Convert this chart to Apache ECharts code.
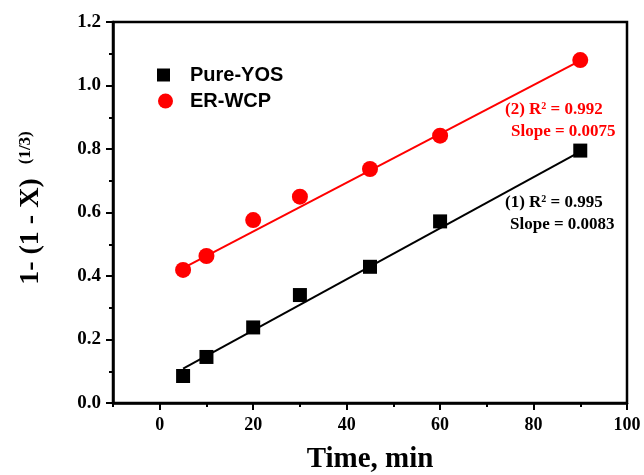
<!DOCTYPE html>
<html>
<head>
<meta charset="utf-8">
<script src="https://cdn.jsdelivr.net/npm/echarts@6/dist/echarts.min.js"></script>
<style>
html, body { margin: 0; padding: 0; background: #fff; }
#chart { width: 644px; height: 475px; }
</style>
</head>
<body>
<div id="chart"></div>
<script>
// Reaction time (min) and conversion function 1-(1-X)^(1/3)
const times = [5, 10, 20, 30, 45, 60, 90];
const pureYos = [0.085, 0.145, 0.238, 0.340, 0.429, 0.572, 0.795];
const erWcp = [0.419, 0.463, 0.576, 0.650, 0.737, 0.842, 1.080];

// Linear fit end points
const fitX = [5, 90];
const fitPureYos = [0.108, 0.792];
const fitErWcp = [0.425, 1.078];

// Axis ticks
const xMajorTicks = [0, 20, 40, 60, 80, 100];
const xMinorTicks = [-10, 10, 30, 50, 70, 90];

const serif = '"Liberation Serif", "Times New Roman", serif';
const sans = '"Liberation Sans", Arial, sans-serif';
const RED = '#ff0000';

const pairs = (xs, ys) => xs.map((x, i) => [x, ys[i]]);

const chart = echarts.init(document.getElementById('chart'), null, { renderer: 'canvas' });

const grid = {
  left: 113, right: 17, top: 22, bottom: 72,
  outerBoundsMode: 'none', containLabel: false,
  show: true, borderColor: '#000', borderWidth: 2.5, backgroundColor: 'transparent'
};

chart.setOption({
  animation: false,
  backgroundColor: '#fff',
  grid: grid,
  legend: [
    {
      data: [{ name: 'Pure-YOS', icon: 'rect' }],
      left: 152, top: 60, orient: 'vertical',
      itemWidth: 13, itemHeight: 13,
      textStyle: { fontFamily: sans, fontWeight: 'bold', fontSize: 20, color: '#000', padding: [0, 0, 0, 15] }
    },
    {
      data: [{ name: 'ER-WCP', icon: 'circle' }],
      left: 153, top: 86, orient: 'vertical',
      itemWidth: 15, itemHeight: 15,
      textStyle: { fontFamily: sans, fontWeight: 'bold', fontSize: 20, color: '#000', padding: [0, 0, 0, 12] }
    }
  ],
  xAxis: [
    {
      type: 'value', min: -10, max: 100,
      name: 'Time, min', nameLocation: 'middle', nameGap: 42,
      nameTextStyle: { fontFamily: serif, fontWeight: 'bold', fontSize: 29, color: '#000' },
      axisLine: { show: true, onZero: false, lineStyle: { color: '#000', width: 2.5 } },
      axisTick: { show: true, length: 7, customValues: xMajorTicks, lineStyle: { color: '#000', width: 2 } },
      axisLabel: { customValues: xMajorTicks, margin: 13, fontFamily: serif, fontWeight: 'bold', fontSize: 18, color: '#000' },
      splitLine: { show: false }
    },
    {
      type: 'value', min: -10, max: 100, position: 'bottom', gridIndex: 0,
      axisLine: { show: false, onZero: false },
      axisTick: { show: true, length: 4, customValues: xMinorTicks, lineStyle: { color: '#000', width: 2 } },
      axisLabel: { show: false },
      splitLine: { show: false }
    }
  ],
  yAxis: {
    type: 'value', min: 0, max: 1.2, interval: 0.2,
    axisLine: { show: true, onZero: false, lineStyle: { color: '#000', width: 2.5 } },
    axisTick: { show: true, length: 7, lineStyle: { color: '#000', width: 2 } },
    minorTick: { show: true, splitNumber: 2, length: 4, lineStyle: { color: '#000', width: 2 } },
    axisLabel: { margin: 12, fontFamily: serif, fontWeight: 'bold', fontSize: 19, color: '#000', formatter: v => v.toFixed(1) },
    splitLine: { show: false }
  },
  series: [
    {
      name: 'Pure-YOS fit', type: 'line', data: pairs(fitX, fitPureYos),
      showSymbol: false, symbol: 'none', z: 2,
      lineStyle: { color: '#000', width: 2 }
    },
    {
      name: 'ER-WCP fit', type: 'line', data: pairs(fitX, fitErWcp),
      showSymbol: false, symbol: 'none', z: 2,
      lineStyle: { color: RED, width: 2 }
    },
    {
      name: 'Pure-YOS', type: 'scatter', data: pairs(times, pureYos),
      symbol: 'rect', symbolSize: 14, z: 3,
      itemStyle: { color: '#000', opacity: 1 }
    },
    {
      name: 'ER-WCP', type: 'scatter', data: pairs(times, erWcp),
      symbol: 'circle', symbolSize: 16, z: 3,
      itemStyle: { color: RED, opacity: 1 }
    }
  ],
  graphic: [
    {
      type: 'text', x: 31, y: 208, rotation: Math.PI / 2,
      style: {
        text: '{a|1- (1 - X)}{b|(1/3)}',
        align: 'center', verticalAlign: 'middle', fill: '#000',
        rich: {
          a: { fontFamily: serif, fontWeight: 'bold', fontSize: 28, lineHeight: 28, fill: '#000', verticalAlign: 'bottom', padding: [5, 0, 0, 0] },
          b: { fontFamily: serif, fontWeight: 'bold', fontSize: 17, lineHeight: 17, fill: '#000', verticalAlign: 'top', padding: [0, 0, 0, 14] }
        }
      }
    },
    {
      type: 'text', x: 505, y: 110,
      style: {
        text: '{t|(2) R}{s|2}{t| = 0.992}', fill: RED, verticalAlign: 'middle',
        rich: {
          t: { fontFamily: serif, fontWeight: 'bold', fontSize: 17, lineHeight: 17, fill: RED },
          s: { fontFamily: serif, fontWeight: 'bold', fontSize: 10, lineHeight: 10, fill: RED, verticalAlign: 'top' }
        }
      }
    },
    {
      type: 'text', x: 511, y: 132,
      style: { text: 'Slope = 0.0075', fill: RED, verticalAlign: 'middle', font: 'bold 17px ' + serif }
    },
    {
      type: 'text', x: 505, y: 203,
      style: {
        text: '{t|(1) R}{s|2}{t| = 0.995}', fill: '#000', verticalAlign: 'middle',
        rich: {
          t: { fontFamily: serif, fontWeight: 'bold', fontSize: 17, lineHeight: 17, fill: '#000' },
          s: { fontFamily: serif, fontWeight: 'bold', fontSize: 10, lineHeight: 10, fill: '#000', verticalAlign: 'top' }
        }
      }
    },
    {
      type: 'text', x: 510, y: 225,
      style: { text: 'Slope = 0.0083', fill: '#000', verticalAlign: 'middle', font: 'bold 17px ' + serif }
    }
  ]
});
</script>
</body>
</html>
